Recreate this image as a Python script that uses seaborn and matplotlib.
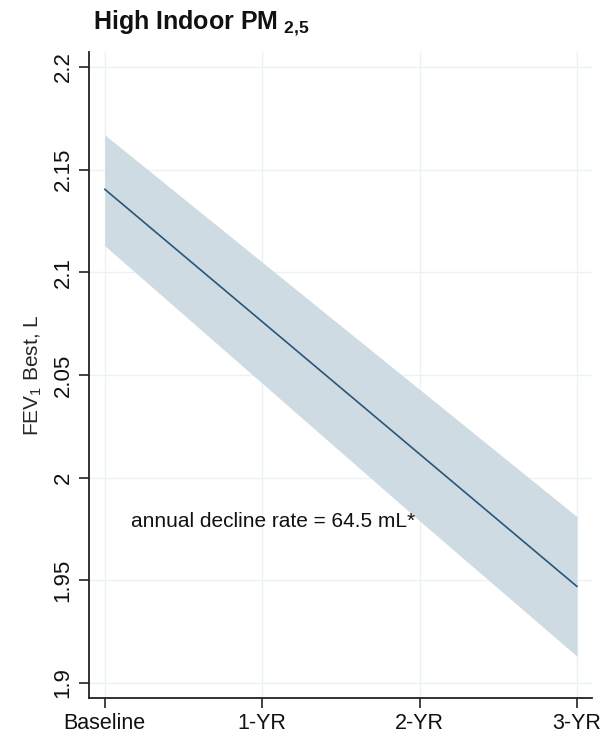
import matplotlib
matplotlib.use("Agg")
import matplotlib.pyplot as plt
import seaborn as sns
import pandas as pd

# Model-predicted FEV1 across follow-up visits
visits = ["Baseline", "1-YR", "2-YR", "3-YR"]
visit_pos = [0, 1, 2, 3]
fev1_fit = [2.1405, 2.076, 2.0115, 1.947]
ci_upper = [2.167, 2.105, 2.043, 1.981]
ci_lower = [2.113, 2.046, 1.979, 1.913]
y_ticks = [1.9, 1.95, 2.0, 2.05, 2.1, 2.15, 2.2]
y_tick_labels = ["1.9", "1.95", "2", "2.05", "2.1", "2.15", "2.2"]
note = "annual decline rate = 64.5 mL*"

sns.set_theme(style="white")
plt.rcParams["font.family"] = ["Liberation Sans", "DejaVu Sans"]
plt.rcParams["mathtext.fontset"] = "custom"
plt.rcParams["mathtext.rm"] = "Liberation Sans"
plt.rcParams["mathtext.bf"] = "Liberation Sans:bold"

df = pd.DataFrame({"visit": visit_pos, "fev1": fev1_fit})

fig = plt.figure(figsize=(6.05, 7.38), dpi=100)
ax = fig.add_axes([0.147, 0.0542, 0.8315, 0.8753])

ax.fill_between(visit_pos, ci_lower, ci_upper, color="#cfdbe3", linewidth=0, zorder=2)
sns.lineplot(data=df, x="visit", y="fev1", ax=ax, color="#2a5578", linewidth=1.2, zorder=3)

ax.set_xlim(-0.1, 3.095)
ax.set_ylim(1.8927, 2.2073)
ax.set_xticks(visit_pos)
ax.set_xticklabels(visits, fontsize=15.5)
ax.set_yticks(y_ticks)
ax.set_yticklabels(y_tick_labels, fontsize=16, rotation=90, va="center")

ax.grid(True, color="#eaf2f5", linewidth=1.0, zorder=0)
ax.set_axisbelow(True)

for side in ["top", "right"]:
    ax.spines[side].set_visible(False)
for side in ["left", "bottom"]:
    ax.spines[side].set_color("#222222")
    ax.spines[side].set_linewidth(1.3)
ax.tick_params(axis="both", direction="out", length=7, width=1.2, color="#222222",
               labelcolor="#111111", pad=4, left=True, bottom=True)

ax.set_xlabel("")
ax.set_ylabel(r"FEV$_\mathrm{1}$ Best, L", fontsize=15, labelpad=6)

ax.text(0.17, 1.9785, note, fontsize=15, ha="left", va="center", color="#111111")

fig.text(0.153, 0.968, r"High Indoor PM$_{\mathbf{\ 2{,}5}}$", fontsize=18, fontweight="bold",
         ha="left", va="center", color="#111111")

fig.savefig("out.png", dpi=100, facecolor="white")
